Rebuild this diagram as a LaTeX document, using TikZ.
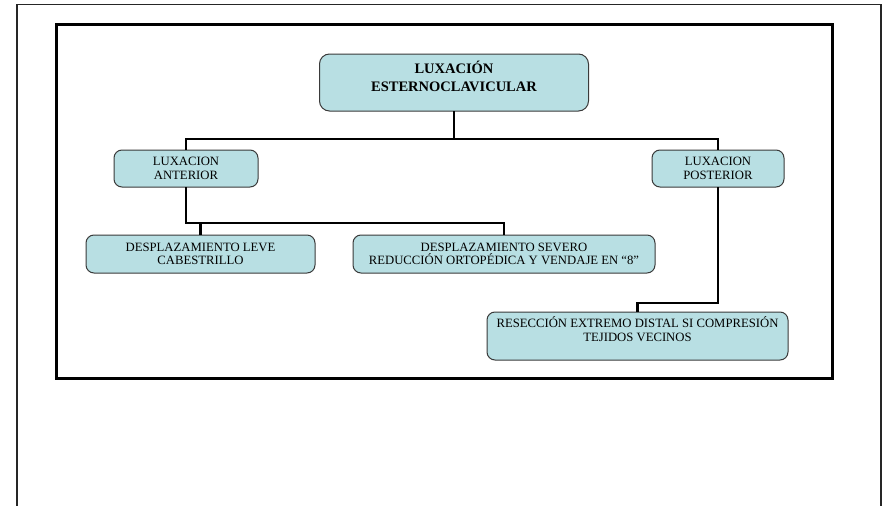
\documentclass[tikz,border=0pt]{standalone}
\usepackage{fontspec}
\setmainfont{Liberation Serif}
\definecolor{boxfill}{HTML}{B8DFE3}
\definecolor{boxline}{HTML}{3A3A3A}
\begin{document}
\begin{tikzpicture}[x=1pt,y=-1pt,
  box/.style={draw=boxline, line width=1pt, fill=boxfill, rounded corners=8pt,
    inner sep=0pt, outer sep=0pt, align=center, text=black,
    font=\fontsize{12.7}{14.2}\selectfont},
  headbox/.style={box, rounded corners=10pt,
    font=\fontsize{14.5}{18}\selectfont\bfseries},
  conn/.style={draw=black, line width=2.4pt},
  frame/.style={draw=black, line width=3pt}]
\useasboundingbox (0,0) rectangle (884,506);

% page edge and diagram frame
\draw[draw=black!85, line width=1.5pt] (17,506) -- (17,4.5) -- (881,4.5) -- (881,506);
\draw[frame] (56.7,24.8) rectangle (832.2,378.2);

% boxes
\node[headbox, minimum width=269pt, minimum height=57pt] (top) at (454,82.5)
  {LUXACIÓN\\ESTERNOCLAVICULAR\rule[-13pt]{0pt}{0pt}};
\node[box, minimum width=144pt, minimum height=37pt] (ant) at (186,168.5)
  {LUXACION\\ANTERIOR};
\node[box, minimum width=132pt, minimum height=37pt] (post) at (718,168.5)
  {LUXACION\\POSTERIOR};
\node[box, minimum width=229pt, minimum height=38pt, font=\fontsize{12.7}{13.5}\selectfont] (lev) at (200.5,254)
  {DESPLAZAMIENTO LEVE\\CABESTRILLO};
\node[box, minimum width=302pt, minimum height=38pt, font=\fontsize{12.7}{13.5}\selectfont] (mid) at (504,254)
  {DESPLAZAMIENTO SEVERO\\REDUCCIÓN ORTOPÉDICA Y VENDAJE EN “8”};
\node[box, minimum width=301pt, minimum height=48pt] (res) at (637.5,336)
  {RESECCIÓN EXTREMO DISTAL SI COMPRESIÓN\\TEJIDOS VECINOS\rule[-14pt]{0pt}{0pt}};

% connectors
\coordinate (hub) at (454,139);
\coordinate (split) at (186,223);
\coordinate (kink) at (718,303);
\draw[conn] (top) -- (hub);
\draw[conn] (ant) |- (hub) -| (post);
\draw[conn] (ant) -- (split) -| (mid);
\draw[conn] (lev |- split) -- (lev);
\draw[conn] (post) -- (kink) -| (res);
\end{tikzpicture}
\end{document}
